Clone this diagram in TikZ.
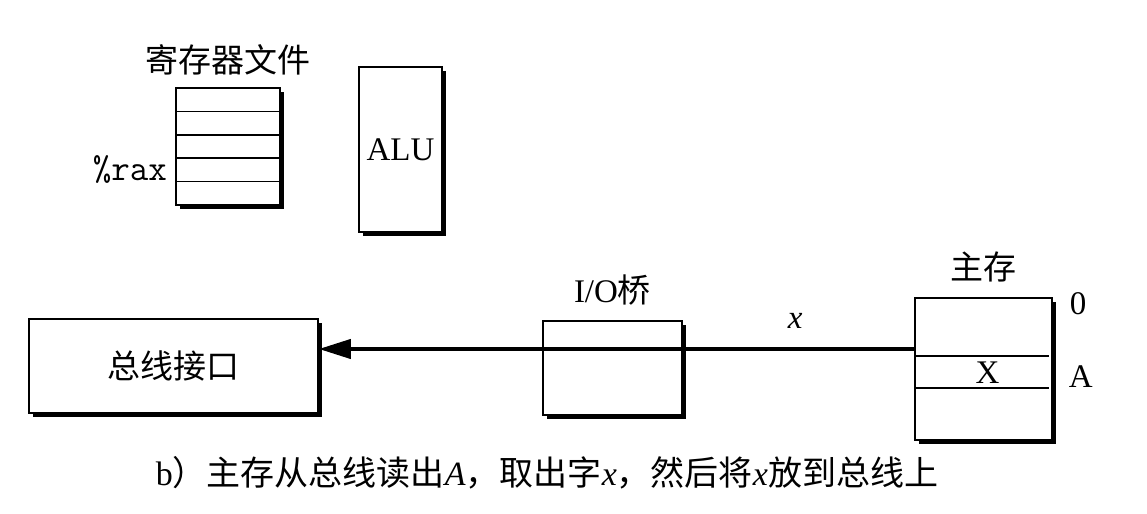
\documentclass[tikz,border=0pt]{standalone}
\usepackage{fontspec}
\setmainfont{Liberation Serif}
\newfontfamily\cjk{Noto Sans CJK SC}
\usetikzlibrary{positioning,shadows,arrows.meta}

\begin{document}
\begin{tikzpicture}[x=0.5pt, y=0.5pt,
    font=\fontsize{16.5}{20}\selectfont,
    box/.style={draw, fill=white, line width=0.8pt,
      drop shadow={shadow xshift=2pt, shadow yshift=-2pt, fill=black, opacity=1}},
    reg/.style={box, minimum width=52pt, minimum height=11.7pt, outer sep=0pt},
    cjklabel/.style={font=\cjk\fontsize{16.5}{20}\selectfont},
    bus/.style={line width=2pt, -{Triangle[length=16pt, width=9.5pt]}}]
  \useasboundingbox (0,0) rectangle (1147,-514);
  % register file
  \node[reg] (r1) at (228,-99.7) {};
  \node[reg, below=0pt of r1] (r2) {};
  \node[reg, below=0pt of r2] (r3) {};
  \node[reg, below=0pt of r3] (r4) {};
  \node[reg, below=0pt of r4] (r5) {};
  \node[cjklabel, above=3pt of r1] (regtitle) {寄存器文件};
  \node[left=1pt of r4, font=\ttfamily\fontsize{18}{20}\selectfont] (rax) {\%rax};
  % ALU
  \node[box, minimum width=41.5pt, minimum height=82.5pt] (alu) at (400.5,-149.5) {ALU};
  % bus interface and I/O bridge
  \node[box, cjklabel, minimum width=144.5pt, minimum height=47pt] (busif) at (173.5,-366) {总线接口};
  \node[box, minimum width=69.5pt, minimum height=47pt] (bridge) at (612.5,-368) {};
  \node[above=4pt of bridge] (bridgelabel) {I/O{\cjk 桥}};
  % main memory
  \node[box, minimum width=68.5pt, minimum height=71pt] (mem) at (983.5,-369) {};
  \node[cjklabel, above=4pt of mem] (memlabel) {主存};
  \draw[line width=0.8pt] ([yshift=-29.5pt]mem.north west) -- ([yshift=-29.5pt, xshift=-2pt]mem.north east);
  \draw[line width=0.8pt] ([yshift=-45.5pt]mem.north west) -- ([yshift=-45.5pt, xshift=-2pt]mem.north east);
  \node (word) at ([xshift=2pt, yshift=-37.5pt]mem.north) {X};
  \node[right=5pt of mem.north east, yshift=-3pt] (addr0) {0};
  \node[anchor=west, xshift=4.5pt, yshift=-2pt] (addrA) at (word -| mem.east) {A};
  % system bus
  \coordinate (busR) at ([yshift=10pt]mem.west);
  \draw[bus] (busR) -- node[above=6pt, pos=0.2] (xlabel) {\textit{x}} (busR -| busif.east);
  % caption
  \node[font=\fontsize{17}{20}\selectfont] (caption) at (547,-473)
    {b{\cjk ）主存从总线读出}\textit{A}{\cjk ，取出字}\textit{x}{\cjk ，然后将}\textit{x}{\cjk 放到总线上}};
\end{tikzpicture}
\end{document}
